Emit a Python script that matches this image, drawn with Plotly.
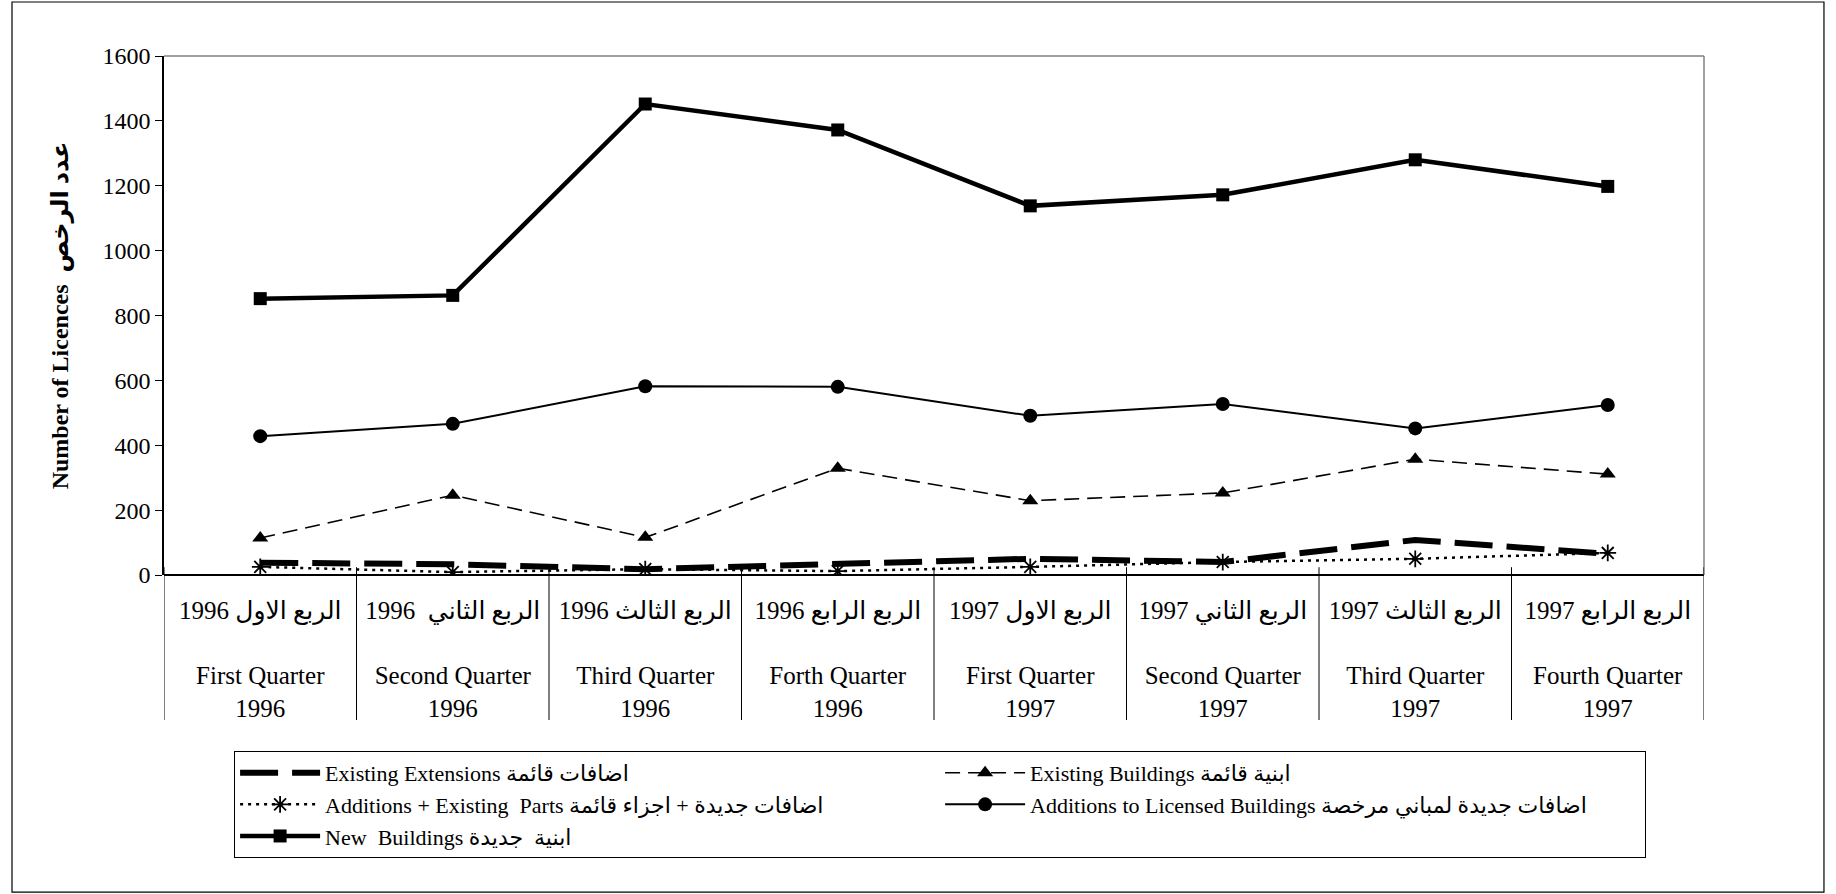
import plotly.graph_objects as go

quarters_ar = ["الربع الاول 1996", "الربع الثاني  1996", "الربع الثالث 1996", "الربع الرابع 1996",
               "الربع الاول 1997", "الربع الثاني 1997", "الربع الثالث 1997", "الربع الرابع 1997"]
quarters_en = ["First Quarter<br>1996", "Second Quarter<br>1996", "Third Quarter<br>1996", "Forth Quarter<br>1996",
               "First Quarter<br>1997", "Second Quarter<br>1997", "Third Quarter<br>1997", "Fourth Quarter<br>1997"]

existing_extensions = [38, 33, 18, 36, 50, 40, 108, 65]
existing_buildings = [114, 246, 116, 329, 229, 253, 357, 311]
additions_existing_parts = [25, 9, 18, 12, 25, 40, 50, 68]
additions_licensed = [428, 466, 582, 580, 491, 527, 452, 524]
new_buildings = [852, 862, 1452, 1372, 1138, 1172, 1280, 1198]

names = ["Existing Extensions اضافات قائمة",
         "Existing Buildings ابنية قائمة",
         "Additions + Existing  Parts اضافات جديدة + اجزاء قائمة",
         "Additions to Licensed Buildings اضافات جديدة لمباني مرخصة",
         "New  Buildings ابنية  جديدة"]

x = list(range(len(quarters_en)))
FONT = "Liberation Serif, Times New Roman, DejaVu Sans, serif"

fig = go.Figure()
fig.add_trace(go.Scatter(x=x, y=existing_extensions, name=names[0], mode="lines",
                         line=dict(color="black", width=6, dash="38px,14px")))
fig.add_trace(go.Scatter(x=x, y=existing_buildings, name=names[1], mode="lines+markers",
                         line=dict(color="black", width=1.6, dash="15px,8px"),
                         marker=dict(symbol="triangle-up", size=14, color="black")))
fig.add_trace(go.Scatter(x=x, y=additions_existing_parts, name=names[2], mode="lines+markers",
                         line=dict(color="black", width=2.5, dash="3px,5px"),
                         marker=dict(symbol="asterisk-open", size=14, color="black",
                                     line=dict(color="black", width=1.8))))
fig.add_trace(go.Scatter(x=x, y=additions_licensed, name=names[3], mode="lines+markers",
                         line=dict(color="black", width=2),
                         marker=dict(symbol="circle", size=14, color="black")))
fig.add_trace(go.Scatter(x=x, y=new_buildings, name=names[4], mode="lines+markers",
                         line=dict(color="black", width=4.5),
                         marker=dict(symbol="square", size=13, color="black")))

ticktext = [f"{a}<br> <br>{e}" for a, e in zip(quarters_ar, quarters_en)]

shapes = []
# outer border
shapes.append(dict(type="rect", xref="paper", yref="paper", x0=-0.0987, x1=1.0779, y0=-0.611, y1=1.104,
                   line=dict(color="black", width=1.2), layer="below"))
# plot area border (gray top/right)
shapes.append(dict(type="line", xref="paper", yref="paper", x0=0, x1=1, y0=1, y1=1,
                   line=dict(color="#808080", width=1.5)))
shapes.append(dict(type="line", xref="paper", yref="paper", x0=1, x1=1, y0=0, y1=1,
                   line=dict(color="#808080", width=1.5)))
# category separators
for i in range(len(x) + 1):
    shapes.append(dict(type="line", xref="x", yref="paper", x0=i - 0.5, x1=i - 0.5, y0=0.015, y1=-0.2794,
                       line=dict(color="black", width=1)))

fig.update_layout(
    width=1836, height=894,
    margin=dict(l=164, r=132, t=56, b=319, autoexpand=False),
    paper_bgcolor="white", plot_bgcolor="white",
    font=dict(family=FONT, color="black", size=20),
    showlegend=True,
    shapes=shapes,
    legend=dict(orientation="h", xref="container", yref="container",
                x=0.1275, y=0.16, xanchor="left", yanchor="top",
                entrywidth=610, entrywidthmode="pixels", itemwidth=80,
                bordercolor="black", borderwidth=1, bgcolor="white",
                font=dict(family=FONT, size=22), traceorder="normal"),
    xaxis=dict(range=[-0.5, 7.5], tickmode="array", tickvals=x, ticktext=ticktext,
               showgrid=False, zeroline=False, showline=False, ticks="", automargin=False,
               ticklabelstandoff=18,
               tickfont=dict(family=FONT, size=25), fixedrange=True),
    yaxis=dict(range=[0, 1600], dtick=200, showgrid=False, zeroline=True, zerolinecolor="black",
               zerolinewidth=1.5, showline=True, linecolor="black", linewidth=1.5, automargin=False,
               ticks="outside", ticklen=7, tickcolor="black",
               tickfont=dict(family=FONT, size=24),
               title=dict(text="<b>Number of Licences  عدد الرخص</b>", font=dict(family=FONT, size=24), standoff=27)),
)

fig.write_html("out.html", config={"displayModeBar": False},
               post_script="document.body.style.margin='0';document.body.style.padding='0';")
